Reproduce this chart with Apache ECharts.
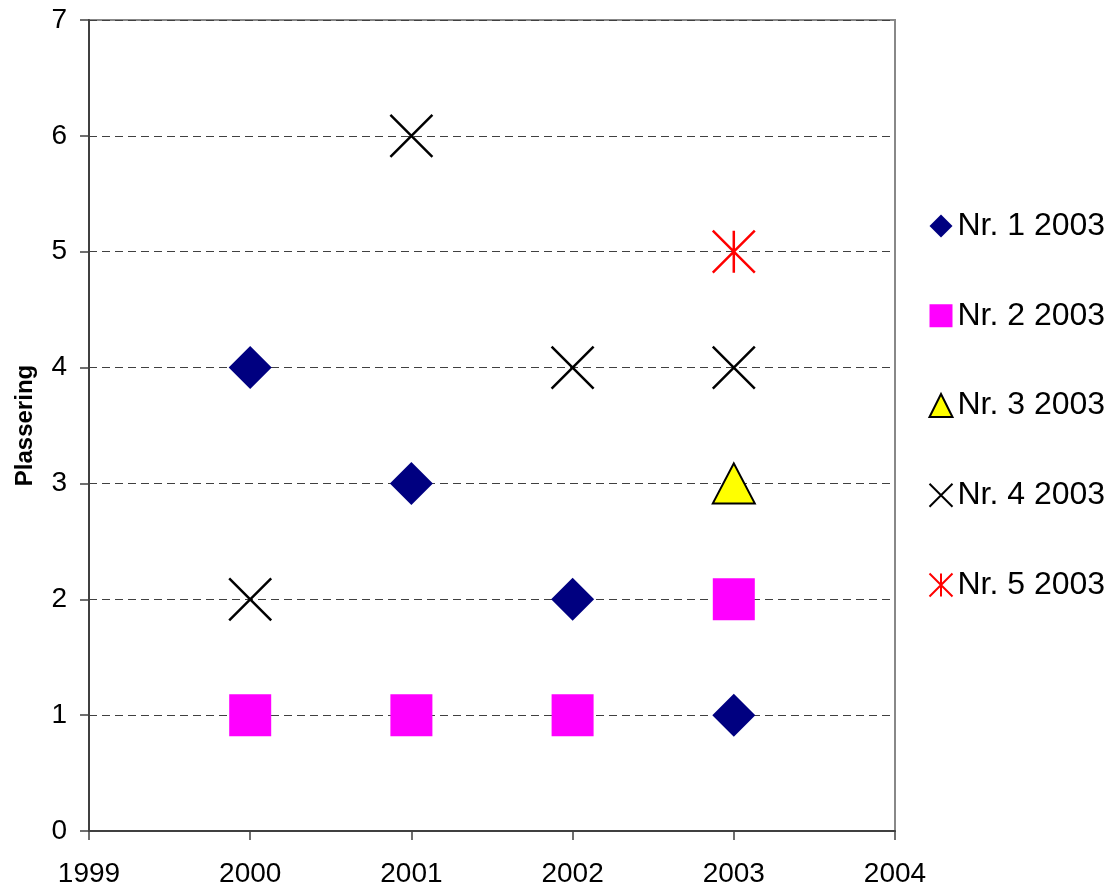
<!DOCTYPE html>
<html><head><meta charset="utf-8">
<script src="https://cdn.jsdelivr.net/npm/echarts@6/dist/echarts.min.js"></script>
<style>html,body{margin:0;padding:0;background:#fff}#c{width:1112px;height:885px}</style>
</head><body><div id="c"></div>
<script>
const seriesNames = ['Nr. 1 2003','Nr. 2 2003','Nr. 3 2003','Nr. 4 2003','Nr. 5 2003'];
const nr1 = [[2000,4],[2001,3],[2002,2],[2003,1]];
const nr2 = [[2000,1],[2001,1],[2002,1],[2003,2]];
const nr3 = [[2003,3]];
const nr4 = [[2000,2],[2001,6],[2002,4],[2003,4]];
const nr5 = [[2003,5]];
const xTicks = [1999,2000,2001,2002,2003,2004];
const yTicks = [0,1,2,3,4,5,6,7];

const XPATH = 'path://M0,0L10,10M10,0L0,10';
const STAR = 'path://M0,0L10,10M10,0L0,10M5,0L5,10';
const font = 'Liberation Sans, Arial, sans-serif';

const chart = echarts.init(document.getElementById('c'));
chart.setOption({
  animation:false,
  backgroundColor:'#fff',
  grid:{left:89,right:217,top:20,bottom:54,containLabel:false,outerBoundsMode:'none',show:true,borderColor:'#888',borderWidth:2,backgroundColor:'transparent'},
  xAxis:{type:'value',min:xTicks[0],max:xTicks[xTicks.length-1],interval:1,
    axisLine:{show:true,lineStyle:{color:'#404040',width:2}},
    axisTick:{show:true,inside:false,length:9,lineStyle:{color:'#404040',width:1.5}},
    axisLabel:{color:'#000',fontSize:28,fontFamily:font,margin:29,formatter:v=>String(v)},
    splitLine:{show:false}},
  yAxis:{type:'value',min:yTicks[0],max:yTicks[yTicks.length-1],interval:1,
    name:'Plassering',nameLocation:'middle',nameGap:52,nameRotate:90,
    nameTextStyle:{fontSize:24,fontWeight:'bold',fontFamily:font,color:'#000'},
    axisLine:{show:true,lineStyle:{color:'#404040',width:2}},
    axisTick:{show:true,inside:false,length:9,lineStyle:{color:'#404040',width:1.5}},
    axisLabel:{color:'#000',fontSize:28,fontFamily:font,margin:22,formatter:v=>String(v)},
    splitLine:{show:true,lineStyle:{color:'#404040',width:1,type:[8,5]}}},
  legend:{orient:'vertical',left:927,top:210,padding:0,itemWidth:23,itemHeight:23,itemGap:57.75,
    textStyle:{fontSize:32,fontFamily:font,color:'#000',lineHeight:31},
    data:seriesNames},
  series:[
    {name:seriesNames[0],type:'scatter',data:nr1,symbol:'diamond',symbolSize:43,itemStyle:{color:'#000080',opacity:1}},
    {name:seriesNames[1],type:'scatter',data:nr2,symbol:'rect',symbolSize:42,itemStyle:{color:'#FF00FF',opacity:1}},
    {name:seriesNames[2],type:'scatter',data:nr3,symbol:'triangle',symbolSize:[42,40],itemStyle:{color:'#FFFF00',borderColor:'#000',borderWidth:2,opacity:1}},
    {name:seriesNames[3],type:'scatter',data:nr4,symbol:XPATH,symbolSize:42,itemStyle:{color:'none',borderColor:'#000',borderWidth:2.5,opacity:1}},
    {name:seriesNames[4],type:'scatter',data:nr5,symbol:STAR,symbolSize:42,itemStyle:{color:'none',borderColor:'#FF0000',borderWidth:2.5,opacity:1}}
  ]
});
</script></body></html>
